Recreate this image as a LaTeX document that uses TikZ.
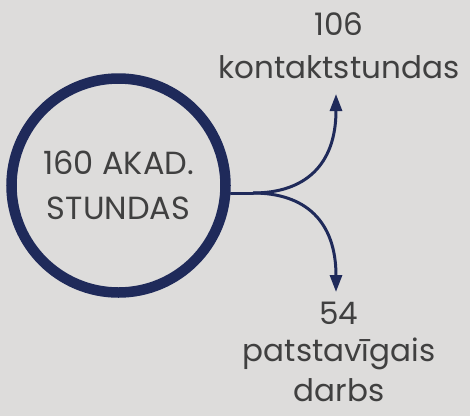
\documentclass[tikz,border=0pt]{standalone}
\usepackage{fontspec}
\setmainfont{Poppins}
\usetikzlibrary{arrows.meta}
\definecolor{navy}{HTML}{1F2A5A}
\definecolor{ink}{HTML}{404040}
\definecolor{paper}{HTML}{DDDCDB}

\begin{document}
\begin{tikzpicture}[
    x=1pt,y=-1pt,
    branch/.style={line width=3pt, navy, -{Triangle[length=17pt,width=12pt]}},
    txt/.style={text=ink, font=\fontsize{31}{43}\selectfont, align=center, inner sep=1pt}
    ]
    \fill[paper] (0,0) rectangle (470,416);
    \node[circle, draw=navy, line width=10.5pt, minimum size=214pt,
          txt, inner sep=0pt, font=\fontsize{32}{45}\selectfont] (total) at (118.5,185.5) {160 AKAD.\\STUNDAS};
    \node[txt] (contact) at (339,46) {106\\kontaktstundas};
    \node[txt] (self) at (339,352) {54\\[-6pt]patstavīgais\\[-3pt]darbs};
    \coordinate (stem) at ([yshift=-7.5pt]total.east);
    \coordinate (fork) at (253,193);
    \coordinate (upTip) at (336,94);
    \coordinate (downTip) at (336,292);
    \draw[line width=3pt, navy, line cap=round] (stem) -- (fork);
    \draw[branch] (fork) .. controls (305,193) and (336,165) .. (upTip);
    \draw[branch] (fork) .. controls (305,193) and (336,221) .. (downTip);
\end{tikzpicture}
\end{document}
